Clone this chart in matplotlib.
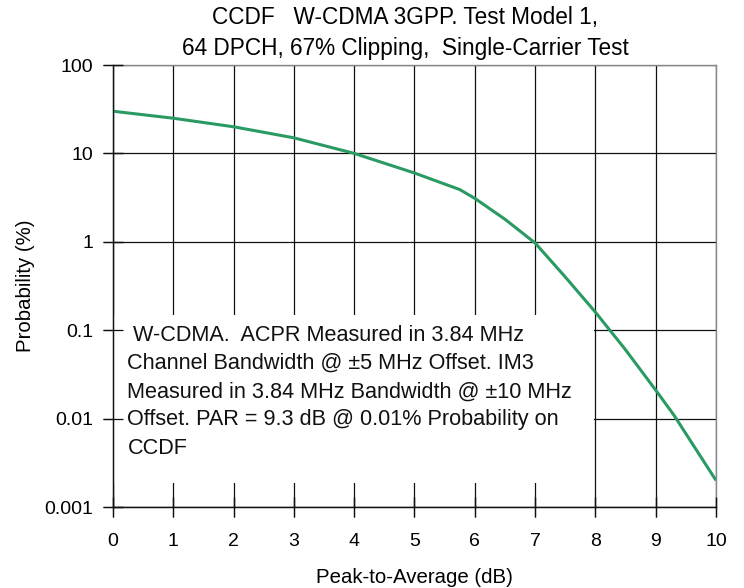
import matplotlib
matplotlib.use("Agg")
import matplotlib.pyplot as plt
from matplotlib.ticker import FixedLocator, FixedFormatter, NullLocator
from matplotlib.patches import Rectangle

plt.rcParams['font.family'] = ['Liberation Sans', 'DejaVu Sans']

# Data
par_db = [0, 1, 2, 3, 4, 5, 5.75, 6, 6.5, 7, 7.5, 8, 8.5, 9, 9.3, 10]
prob_pct = [30, 25, 20, 15, 10, 6.0, 3.9, 3.1, 1.8, 0.97, 0.4, 0.16, 0.06, 0.021, 0.011, 0.002]

x_ticks = [0, 1, 2, 3, 4, 5, 6, 7, 8, 9, 10]
y_ticks = [0.001, 0.01, 0.1, 1, 10, 100]
y_tick_labels = ["0.001", "0.01", "0.1", "1", "10", "100"]

title = "CCDF   W-CDMA 3GPP. Test Model 1,\n64 DPCH, 67% Clipping,  Single-Carrier Test"
note = (" W-CDMA.  ACPR Measured in 3.84 MHz\n"
        "Channel Bandwidth @ \u00b15 MHz Offset. IM3\n"
        "Measured in 3.84 MHz Bandwidth @ \u00b110 MHz\n"
        "Offset. PAR = 9.3 dB @ 0.01% Probability on\n"
        "CCDF")

FS_TICK = 14
FS_TITLE = 16.3
FS_NOTE = 15.6
FS_LABEL = 14.7

fig = plt.figure(figsize=(7.44, 5.88), dpi=100)
pos = [113/744, 1-507/588, (716-113)/744, (507-65)/588]
ax = fig.add_axes(pos)
ax.set_yscale('log')
ax.set_xlim(0, 10)
ax.set_ylim(0.001, 100)
ax.set_axisbelow(True)
ax.grid(True, which='major', color='#111111', linewidth=0.9)
ax.xaxis.set_major_locator(FixedLocator(x_ticks))
ax.yaxis.set_major_locator(FixedLocator(y_ticks))
ax.yaxis.set_major_formatter(FixedFormatter(y_tick_labels))
ax.yaxis.set_minor_locator(NullLocator())
ax.tick_params(axis='both', direction='inout', length=14, width=0.9, color='#111111',
               labelsize=FS_TICK)
ax.tick_params(axis='x', pad=12)
ax.tick_params(axis='y', pad=7)
for s in ['top', 'right']:
    ax.spines[s].set_color('#888888')
for s in ['left', 'bottom']:
    ax.spines[s].set_color('#111111')
for s in ax.spines.values():
    s.set_linewidth(1.0)

ax.plot(par_db, prob_pct, color='#2a9a63', linewidth=2.2, zorder=3, solid_capstyle='butt')

# white note box covering grid
ax.add_patch(Rectangle((0.0, 0.054), 0.797, 0.380, transform=ax.transAxes,
                       facecolor='white', edgecolor='none', zorder=1))
ax.text(0.024, 0.412, note, transform=ax.transAxes, fontsize=FS_NOTE, va='top', ha='left',
        linespacing=1.45, zorder=4, color='#111111')

t = ax.set_title(title, fontsize=FS_TITLE, pad=7, linespacing=1.45)
t.set_x(0.485)
ax.set_xlabel("Peak-to-Average (dB)", fontsize=FS_LABEL, labelpad=13)
ax.set_ylabel("Probability (%)", fontsize=FS_LABEL, labelpad=7)

# overlay axes to show ticks over the note box
ov = fig.add_axes(pos, sharex=ax, sharey=ax, facecolor='none')
ov.set_zorder(ax.get_zorder() + 1)
ov.tick_params(axis='both', direction='inout', length=14, width=0.9, color='#111111',
               labelleft=False, labelbottom=False)
ov.yaxis.set_minor_locator(NullLocator())
for s in ov.spines.values():
    s.set_visible(False)
ov.spines['left'].set_visible(True)
ov.spines['left'].set_color('#111111')
ov.spines['bottom'].set_visible(True)
ov.spines['bottom'].set_color('#111111')

fig.savefig("out.png", dpi=100)
